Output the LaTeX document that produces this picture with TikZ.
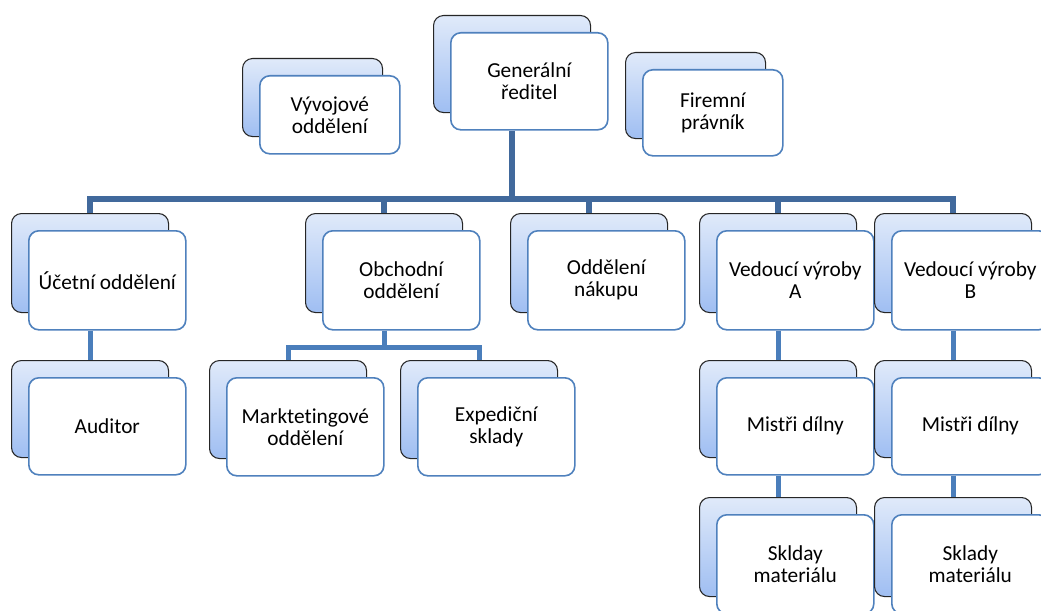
\documentclass[tikz,border=0pt]{standalone}
\usepackage{fontspec}
\setmainfont[Ligatures=NoCommon]{Carlito}
\usetikzlibrary{backgrounds,calc}
\definecolor{bluetop}{HTML}{E0EAFA}
\definecolor{bluebot}{HTML}{9FBEF2}
\definecolor{frontline}{HTML}{4F81BD}
\definecolor{topconn}{HTML}{41699C}
\definecolor{lowconn}{HTML}{4A7EBB}
\tikzset{
  backbox/.style={draw=black!85, line width=0.8pt, rounded corners=7.5pt,
    top color=bluetop, bottom color=bluebot, anchor=north west, inner sep=0pt},
  frontbox/.style={draw=frontline, line width=1.2pt, fill=white, rounded corners=7.5pt,
    anchor=north west, align=center, inner sep=2pt,
    font=\fontsize{16}{16.5}\selectfont},
  topline/.style={draw=topconn, line width=4.5pt},
  lowline/.style={draw=lowconn, line width=3.75pt},
}
\newcommand\orgunit[6]{%
  \node[backbox, minimum width=#4*0.75pt, minimum height=#5*0.75pt] (#1-b) at (#2,#3) {};
  \node[frontbox, minimum width=#4*0.75pt, minimum height=#5*0.75pt] (#1) at (#2+17,#3+17) {#6};
}
\begin{document}
\begin{tikzpicture}[x=0.75pt,y=-0.75pt]
\useasboundingbox (0,0) rectangle (1041,610);
\orgunit{gr}{433}{15}{157}{97}{Generální\\ředitel}
\orgunit{vyv}{242}{58}{140}{78}{Vývojové\\oddělení}
\orgunit{fir}{625}{52}{140}{86}{Firemní\\právník}
\orgunit{uc}{11}{213}{157}{99}{Účetní oddělení}
\orgunit{ob}{305}{213}{157}{99}{Obchodní\\oddělení}
\orgunit{nak}{510}{213}{157}{99}{Oddělení\\nákupu}
\orgunit{va}{699}{213}{157}{99}{Vedoucí výroby\\A}
\orgunit{vb}{874}{213}{157}{99}{Vedoucí výroby\\B}
\orgunit{aud}{11}{360}{157}{97}{Auditor}
\orgunit{mar}{209}{360}{157}{98}{Marktetingové\\oddělení}
\orgunit{exp}{400}{360}{157}{98}{Expediční\\sklady}
\orgunit{ma}{699}{360}{157}{97}{Mistři dílny}
\orgunit{mb}{874}{360}{157}{97}{Mistři dílny}
\orgunit{sa}{699}{497}{157}{99}{Sklday\\materiálu}
\orgunit{sb}{874}{497}{157}{99}{Sklady\\materiálu}
\begin{scope}[on background layer]
  \fill[white] (0,0) rectangle (1041,610);
  \coordinate (bus) at (0,199);
  \coordinate (bus2) at (0,347);
  \draw[topline] (gr-b.south |- gr.south) -- (gr-b.south |- bus);
  \draw[topline] (uc-b.north) -- (uc-b.north |- bus) -- (vb-b.north |- bus) -- (vb-b.north);
  \draw[topline] (ob-b.north) -- (ob-b.north |- bus);
  \draw[topline] (nak-b.north) -- (nak-b.north |- bus);
  \draw[topline] (va-b.north) -- (va-b.north |- bus);
  \draw[lowline] (ob-b.south |- ob.south) -- (ob-b.south |- bus2);
  \draw[lowline] (mar-b.north) -- (mar-b.north |- bus2) -- (exp-b.north |- bus2) -- (exp-b.north);
  \draw[lowline] (uc-b.south |- uc.south) -- (aud-b.north);
  \draw[lowline] (va-b.south |- va.south) -- (ma-b.north);
  \draw[lowline] (vb-b.south |- vb.south) -- (mb-b.north);
  \draw[lowline] (ma-b.south |- ma.south) -- (sa-b.north);
  \draw[lowline] (mb-b.south |- mb.south) -- (sb-b.north);
\end{scope}
\end{tikzpicture}
\end{document}
